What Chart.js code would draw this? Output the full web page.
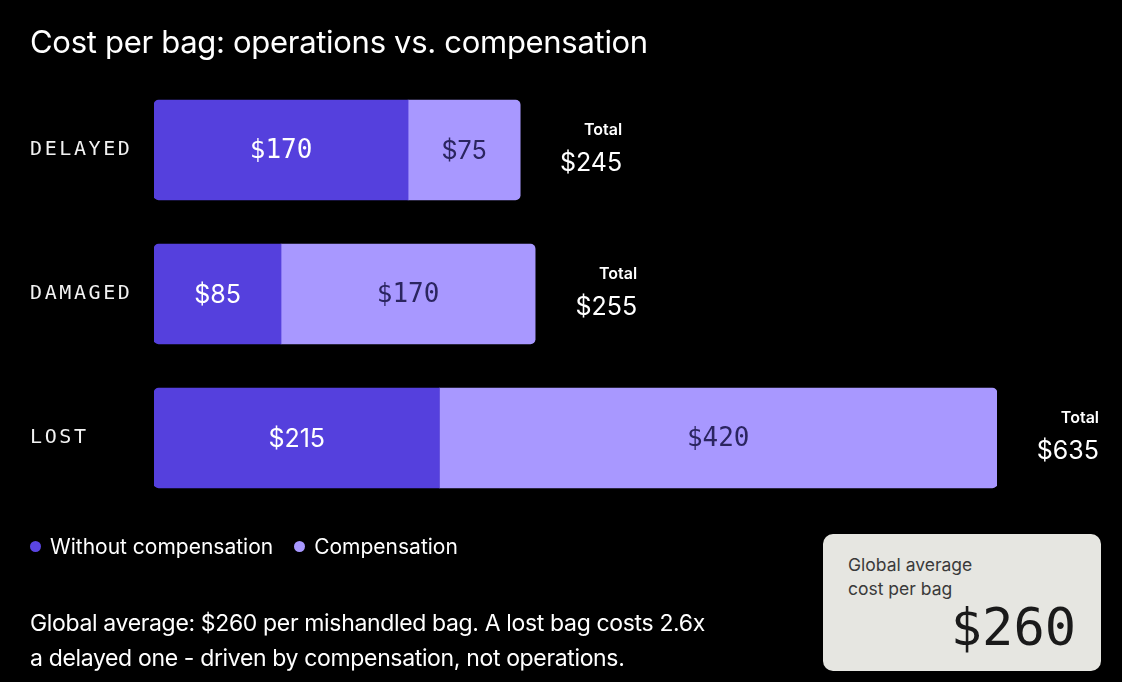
<!DOCTYPE html>
<html>
<head>
<meta charset="utf-8">
<script src="https://cdn.jsdelivr.net/npm/chart.js@4.4.1/dist/chart.umd.min.js"></script>
<style>
  html, body { margin:0; padding:0; background:#000; width:1122px; height:682px; overflow:hidden; }
  #wrap { position:relative; width:1122px; height:682px; }
  canvas { position:absolute; left:0; top:0; }
  .title { position:absolute; left:30px; top:23px; font-family:Inter, "Noto Sans", sans-serif; font-size:31px; color:#fff; letter-spacing:-0.3px; white-space:nowrap; }
  .legend { position:absolute; left:30px; top:534px; font-family:Inter, "Noto Sans", sans-serif; font-size:21px; color:#fff; letter-spacing:0px; display:flex; align-items:center; white-space:nowrap; }
  .legend .dot { display:inline-block; width:11px; height:11px; border-radius:50%; margin-right:9px; }
  .legend .item { display:flex; align-items:center; margin-right:21px; }
  .note { position:absolute; left:30px; top:606px; font-family:Inter, "Noto Sans", sans-serif; font-size:23px; line-height:35px; color:#fff; letter-spacing:-0.35px; white-space:nowrap; }
  .card { position:absolute; left:823px; top:534px; width:278px; height:137px; background:#e6e6e1; border-radius:10px; }
  .card .lbl { position:absolute; left:25px; top:19px; font-family:Inter, "Noto Sans", sans-serif; font-size:17.5px; line-height:24px; color:#3a3a3a; }
  .card .big { position:absolute; right:25px; top:62px; font-family:"DejaVu Sans Mono", monospace; font-size:52px; line-height:62px; color:#1a1a1a; }
</style>
</head>
<body>
<div id="wrap">
  <canvas id="c" width="1122" height="682"></canvas>
  <div class="title">Cost per bag: operations vs. compensation</div>
  <div class="legend" id="legend"></div>
  <div class="note">Global average: $260 per mishandled bag. A lost bag costs 2.6x<br>a delayed one - driven by compensation, not operations.</div>
  <div class="card"><div class="lbl">Global average<br>cost per bag</div><div class="big">$260</div></div>
</div>
<script>
// ---- data ----
const categories = ['DELAYED', 'DAMAGED', 'LOST'];
const seriesNames = ['Without compensation', 'Compensation'];
const withoutCompensation = [170, 85, 215];
const compensation = [75, 170, 420];
const totals = [245, 255, 635];
const globalAverage = 260;

const opsColor = '#5540dd';
const compColor = '#a898ff';

// legend (HTML)
const legendEl = document.getElementById('legend');
[[seriesNames[0], '#5a45e2'], [seriesNames[1], compColor]].forEach(([name, col]) => {
  const it = document.createElement('span'); it.className = 'item';
  const d = document.createElement('span'); d.className = 'dot'; d.style.background = col;
  it.appendChild(d); it.appendChild(document.createTextNode(name));
  legendEl.appendChild(it);
});

// The lost bar in the reference is drawn on a compressed scale, so it uses its own axis.
const lostIdx = 2;
const pick = (arr, keepLost) => arr.map((v, i) => (i === lostIdx) === keepLost ? v : null);

const leftR = { topLeft: 5, bottomLeft: 5, topRight: 0, bottomRight: 0 };
const rightR = { topLeft: 0, bottomLeft: 0, topRight: 5, bottomRight: 5 };

const base = { borderSkipped: false, barThickness: 100, borderWidth: 0 };

const datasets = [
  Object.assign({ label: seriesNames[0], data: pick(withoutCompensation, false), backgroundColor: opsColor, borderRadius: leftR, xAxisID: 'x', textColor: '#ffffff' }, base),
  Object.assign({ label: seriesNames[1], data: pick(compensation, false), backgroundColor: compColor, borderRadius: rightR, xAxisID: 'x', textColor: '#2b2560' }, base),
  Object.assign({ label: seriesNames[0], data: pick(withoutCompensation, true), backgroundColor: opsColor, borderRadius: leftR, xAxisID: 'x2', textColor: '#ffffff' }, base),
  Object.assign({ label: seriesNames[1], data: pick(compensation, true), backgroundColor: compColor, borderRadius: rightR, xAxisID: 'x2', textColor: '#2b2560' }, base),
];

const spacingPlugin = {
  id: 'spacing',
  beforeDraw(chart) { chart.ctx.letterSpacing = '2.6px'; },
  beforeDatasetsDraw(chart) { chart.ctx.letterSpacing = '0px'; }
};

const valueLabels = {
  id: 'valueLabels',
  afterDatasetsDraw(chart) {
    const ctx = chart.ctx;
    ctx.save();
    ctx.textAlign = 'center';
    ctx.textBaseline = 'middle';
    chart.data.datasets.forEach((ds, di) => {
      const meta = chart.getDatasetMeta(di);
      meta.data.forEach((el, i) => {
        const v = ds.data[i];
        if (v === null || v === undefined) return;
        const txt = '$' + v;
        const mono = txt.indexOf('0') >= 0;
        ctx.font = mono ? '26px "DejaVu Sans Mono", monospace' : '25px Inter, "Noto Sans", sans-serif';
        ctx.fillStyle = ds.textColor;
        const cp = el.getCenterPoint();
        ctx.fillText(txt, cp.x, cp.y + 1);
      });
    });
    // totals
    ctx.textAlign = 'right';
    categories.forEach((c, i) => {
      let end = -Infinity, yc = 0;
      chart.data.datasets.forEach((ds, di) => {
        if (ds.data[i] === null) return;
        const el = chart.getDatasetMeta(di).data[i];
        end = Math.max(end, el.x, el.base);
        yc = el.y;
      });
      const rx = end + 102;
      ctx.fillStyle = '#ffffff';
      ctx.font = '600 16px Inter, "Noto Sans", sans-serif';
      ctx.fillText('Total', rx, yc - 20);
      ctx.font = '25px Inter, "Noto Sans", sans-serif';
      ctx.fillText('$' + totals[i], rx, yc + 13);
    });
    ctx.restore();
  }
};

new Chart(document.getElementById('c'), {
  type: 'bar',
  data: { labels: categories, datasets },
  options: {
    indexAxis: 'y',
    responsive: false,
    animation: false,
    maintainAspectRatio: false,
    layout: { padding: { left: 30, right: 125, top: 78, bottom: 172 } },
    plugins: { legend: { display: false }, tooltip: { enabled: false } },
    scales: {
      y: {
        stacked: true,
        grid: { display: false },
        border: { display: false },
        ticks: { color: '#f2f2f2', font: { family: '"DejaVu Sans Mono", monospace', size: 20 }, crossAlign: 'far', padding: 0 },
        afterFit(scale) { scale.width = 124; }
      },
      x: { stacked: true, display: false, min: 0, max: 564 },
      x2: { stacked: true, display: false, min: 0, max: 635 }
    }
  },
  plugins: [spacingPlugin, valueLabels]
});
</script>
</body>
</html>
